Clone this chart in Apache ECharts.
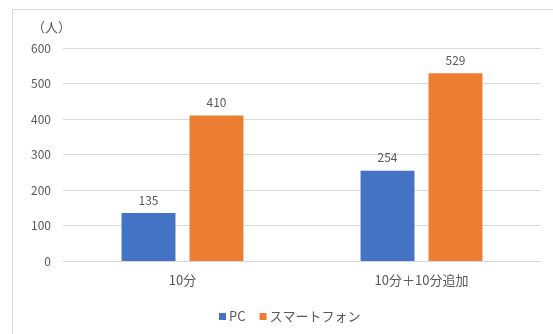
<!DOCTYPE html>
<html>
<head>
<meta charset="utf-8">
<script src="https://cdn.jsdelivr.net/npm/echarts@6/dist/echarts.min.js"></script>
<style>
  html, body { margin: 0; padding: 0; background: #fff; }
  #chart { width: 553px; height: 334px; }
</style>
</head>
<body>
<div id="chart"></div>
<script>
// Categories and values
const categories = ['10分', '10分＋10分追加'];
const pcValues = [135, 254];
const phoneValues = [410, 529];
const seriesNames = ['PC', 'スマートフォン'];
const yTicks = { min: 0, max: 600, interval: 100 };

const FONT = '"Noto Sans CJK JP", "Noto Sans", sans-serif';
const TEXT = '#595959';

const chart = echarts.init(document.getElementById('chart'));
chart.setOption({
  animation: false,
  textStyle: { fontFamily: FONT },
  graphic: [
    {
      type: 'rect',
      shape: { x: 12.5, y: 9.5, width: 580, height: 360 },
      style: { fill: 'none', stroke: '#d9d9d9', lineWidth: 1 },
      silent: true
    },
    {
      type: 'text',
      left: 32, top: 21,
      style: { text: '（人）', fill: TEXT, font: '13px ' + FONT }
    }
  ],
  grid: { left: 63, right: 12, top: 48, bottom: 73 },
  legend: {
    left: 214, top: 305,
    itemWidth: 7, itemHeight: 7, itemGap: 14,
    icon: 'rect',
    textStyle: { color: TEXT, fontSize: 13, fontFamily: FONT, padding: [0, 0, 0, -2] },
    data: seriesNames
  },
  xAxis: {
    type: 'category',
    data: categories,
    axisLine: { lineStyle: { color: '#d9d9d9' } },
    axisTick: { show: false },
    axisLabel: { color: TEXT, fontSize: 13, margin: 13, fontFamily: FONT }
  },
  yAxis: {
    type: 'value',
    min: yTicks.min, max: yTicks.max, interval: yTicks.interval,
    axisLine: { show: false },
    axisTick: { show: false },
    axisLabel: { color: TEXT, fontSize: 12, margin: 12, fontFamily: FONT },
    splitLine: { lineStyle: { color: '#d9d9d9' } }
  },
  series: [
    {
      name: seriesNames[0], type: 'bar', data: pcValues,
      itemStyle: { color: '#4472C4' },
      barGap: '26%', barCategoryGap: '49%',
      label: { show: true, position: 'top', distance: 7, color: TEXT, fontSize: 12, fontFamily: FONT }
    },
    {
      name: seriesNames[1], type: 'bar', data: phoneValues,
      itemStyle: { color: '#ED7D31' },
      barGap: '26%', barCategoryGap: '49%',
      label: { show: true, position: 'top', distance: 7, color: TEXT, fontSize: 12, fontFamily: FONT }
    }
  ]
});
</script>
</body>
</html>
